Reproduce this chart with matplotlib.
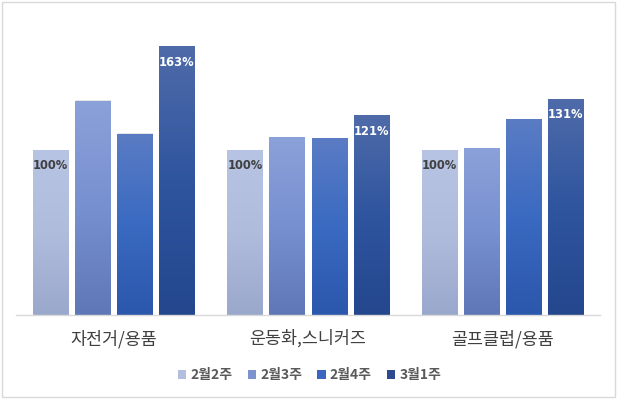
import matplotlib
matplotlib.use("Agg")
import matplotlib.pyplot as plt
import numpy as np
from matplotlib.colors import LinearSegmentedColormap
from matplotlib.patches import Rectangle

plt.rcParams['font.family'] = ['Noto Sans CJK KR', 'DejaVu Sans']

categories = ['자전거/용품', '운동화,스니커즈', '골프클럽/용품']
series_names = ['2월2주', '2월3주', '2월4주', '3월1주']
values = {
    '2월2주': [100, 100, 100],
    '2월3주': [130, 108, 101],
    '2월4주': [110, 107, 119],
    '3월1주': [163, 121, 131],
}
label_series = {'2월2주': '#404040', '3월1주': 'white'}

grad_colors = [
    ('#b8c4e4', '#b0bcdc', '#9aa8cc'),
    ('#8ba1d9', '#7790d0', '#5f77b6'),
    ('#5b7cc4', '#3a6ac1', '#2b57ac'),
    ('#4f6ba9', '#2f559f', '#24478e'),
]
legend_colors = ['#b4bfe0', '#7d93d0', '#3a66bf', '#2e4a90']

fig = plt.figure(figsize=(6.19, 3.99), dpi=100)
ax = fig.add_axes([16/619, 84/399, 584/619, 297/399])
ax.set_xlim(-0.5, 2.5)
ax.set_ylim(0, 180)

x = np.arange(len(categories))
pitch = 0.216
width = 0.18
grad = np.linspace(0, 1, 256).reshape(-1, 1)

for i, name in enumerate(series_names):
    xs = x + (i - 1.5) * pitch
    vals = values[name]
    cmap = LinearSegmentedColormap.from_list(name, list(grad_colors[i][::-1]))
    # shadow
    ax.bar(xs + 0.005, vals, width=width, color='#000000', alpha=0.10, zorder=1)
    bars = ax.bar(xs, vals, width=width, color='none', zorder=2)
    for b, v in zip(bars, vals):
        x0 = b.get_x()
        im = ax.imshow(grad, extent=[x0, x0 + width, 0, v], origin='lower',
                       aspect='auto', cmap=cmap, zorder=2)
        im.set_clip_path(b)
        if name in label_series:
            ax.annotate(f'{v}%', (x0 + width / 2, v), xytext=(0, -11.5),
                        textcoords='offset points', ha='center', va='center',
                        fontsize=8.3, fontweight='bold', color=label_series[name],
                        family=['DejaVu Sans'], zorder=5)
    ax.bar([np.nan], [0], color=legend_colors[i], label=name)

ax.set_xlim(-0.5, 2.5)
ax.set_ylim(0, 180)
for s in ['top', 'right', 'left']:
    ax.spines[s].set_visible(False)
ax.spines['bottom'].set_color('#d9d9d9')
ax.spines['bottom'].set_linewidth(1)
ax.set_yticks([])
ax.set_xticks(x)
ax.set_xticklabels(categories, fontsize=12.5, color='#404040')
ax.tick_params(axis='x', length=0, pad=10.5)

leg = fig.legend(loc='center', bbox_to_anchor=(0.5, 24/399), ncol=4, frameon=False,
                 fontsize=10, handlelength=0.6, handleheight=0.6, handletextpad=0.3,
                 columnspacing=1.1)
for t in leg.get_texts():
    t.set_color('#595959')
    t.set_fontweight('bold')

fig.patches.append(Rectangle((2/619, 2/399), 613/619, 395/399, transform=fig.transFigure,
                             fill=False, edgecolor='#d9d9d9', linewidth=1))

fig.savefig('out.png', dpi=100)
